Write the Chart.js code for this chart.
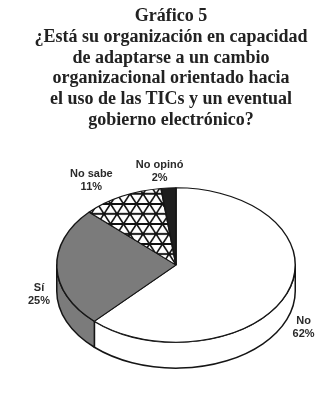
<!DOCTYPE html>
<html><head><meta charset="utf-8">
<script src="https://cdn.jsdelivr.net/npm/chart.js@4.4.0/dist/chart.umd.min.js"></script>
<style>
html,body{margin:0;padding:0;background:#fff;width:326px;height:403px;overflow:hidden;}
#wrap{position:relative;width:326px;height:403px;}
#title{position:absolute;left:16px;top:5px;width:310px;text-align:center;font-family:'Liberation Serif','Times New Roman',serif;font-weight:bold;font-size:18px;line-height:20.8px;color:#222;}
canvas{position:absolute;left:0;top:0;}
</style></head>
<body>
<div id="wrap"><canvas id="c" width="326" height="403"></canvas><div id="title"></div></div>
<script>
const titleLines = ['Gráfico 5','¿Está su organización en capacidad','de adaptarse a un cambio','organizacional orientado hacia','el uso de las TICs y un eventual','gobierno electrónico?'];
const categories = ['No','Sí','No sabe','No opinó'];
const values = [62,25,11,2];
const percentLabels = ['62%','25%','11%','2%'];

const K = 0.647, DEPTH = 26, BORDER = '#151515';
const labelOffsets = [[-11,27],[12,26],[-17,1],[-7,3]];

document.getElementById('title').innerHTML = titleLines.map(s=>s.replace(/&/g,'&amp;')).join('<br>');

function hatch(){
  const w=13, h=Math.round(20/K);
  const c=document.createElement('canvas'); c.width=w; c.height=h;
  const g=c.getContext('2d');
  g.fillStyle='#fff'; g.fillRect(0,0,w,h);
  g.strokeStyle='#111';
  g.lineWidth=1.8;
  g.beginPath();
  g.moveTo(-w,-h); g.lineTo(2*w,2*h);
  g.moveTo(2*w,-h); g.lineTo(-w,2*h);
  g.stroke();
  g.lineWidth=1.8/K;
  g.beginPath();
  g.moveTo(-1,h/2); g.lineTo(w+1,h/2);
  g.moveTo(-1,0); g.lineTo(w+1,0);
  g.moveTo(-1,h); g.lineTo(w+1,h);
  g.stroke();
  return g.createPattern(c,'repeat');
}
const topColors = ['#ffffff','#7b7b7b',hatch(),'#1e1e1e'];
const sideColors = ['#ffffff','#7b7b7b','#ffffff','#1e1e1e'];

const pie3d = {
  id:'pie3d',
  beforeDatasetsDraw(chart){
    const ctx=chart.ctx, arcs=chart.getDatasetMeta(0).data;
    const p0=arcs[0].getProps(['x','y','outerRadius'],true);
    const cx=p0.x, cy=p0.y, rx=p0.outerRadius, ry=rx*K;
    ctx.save();
    ctx.lineWidth=1.5; ctx.strokeStyle=BORDER; ctx.lineJoin='round';
    arcs.forEach((arc,i)=>{
      const p=arc.getProps(['startAngle','endAngle'],true);
      const a=Math.max(p.startAngle,0), b=Math.min(p.endAngle,Math.PI);
      if(b<=a) return;
      ctx.beginPath();
      ctx.ellipse(cx,cy,rx,ry,0,a,b);
      ctx.lineTo(cx+rx*Math.cos(b), cy+ry*Math.sin(b)+DEPTH);
      ctx.ellipse(cx,cy+DEPTH,rx,ry,0,b,a,true);
      ctx.closePath();
      ctx.fillStyle=sideColors[i]; ctx.fill(); ctx.stroke();
    });
    ctx.restore();
    ctx.save();
    ctx.translate(cx,cy); ctx.scale(1,K); ctx.translate(-cx,-cy);
  },
  afterDatasetsDraw(chart){
    const ctx=chart.ctx;
    ctx.restore();
    const arcs=chart.getDatasetMeta(0).data;
    const p0=arcs[0].getProps(['x','y','outerRadius'],true);
    const cx=p0.x, cy=p0.y, rx=p0.outerRadius, ry=rx*K, F=1.25;
    ctx.save();
    ctx.font='bold 11px "Liberation Sans", Arial, sans-serif';
    ctx.fillStyle='#2a2a2a'; ctx.textAlign='center'; ctx.textBaseline='middle';
    arcs.forEach((arc,i)=>{
      const p=arc.getProps(['startAngle','endAngle'],true);
      const m=(p.startAngle+p.endAngle)/2;
      const x=cx+rx*F*Math.cos(m)+labelOffsets[i][0];
      const y=cy+ry*F*Math.sin(m)+labelOffsets[i][1];
      ctx.fillText(categories[i],x,y-6.5);
      ctx.fillText(percentLabels[i],x,y+6.5);
    });
    ctx.restore();
  }
};

new Chart(document.getElementById('c'),{
  type:'pie',
  data:{labels:categories,datasets:[{data:values,backgroundColor:topColors,borderColor:BORDER,borderWidth:1.5}]},
  options:{
    responsive:false, devicePixelRatio:1, animation:false, events:[],
    layout:{padding:{top:145,left:56,right:30,bottom:18}},
    plugins:{legend:{display:false},tooltip:{enabled:false},title:{display:false}}
  },
  plugins:[pie3d]
});
</script>
</body></html>
